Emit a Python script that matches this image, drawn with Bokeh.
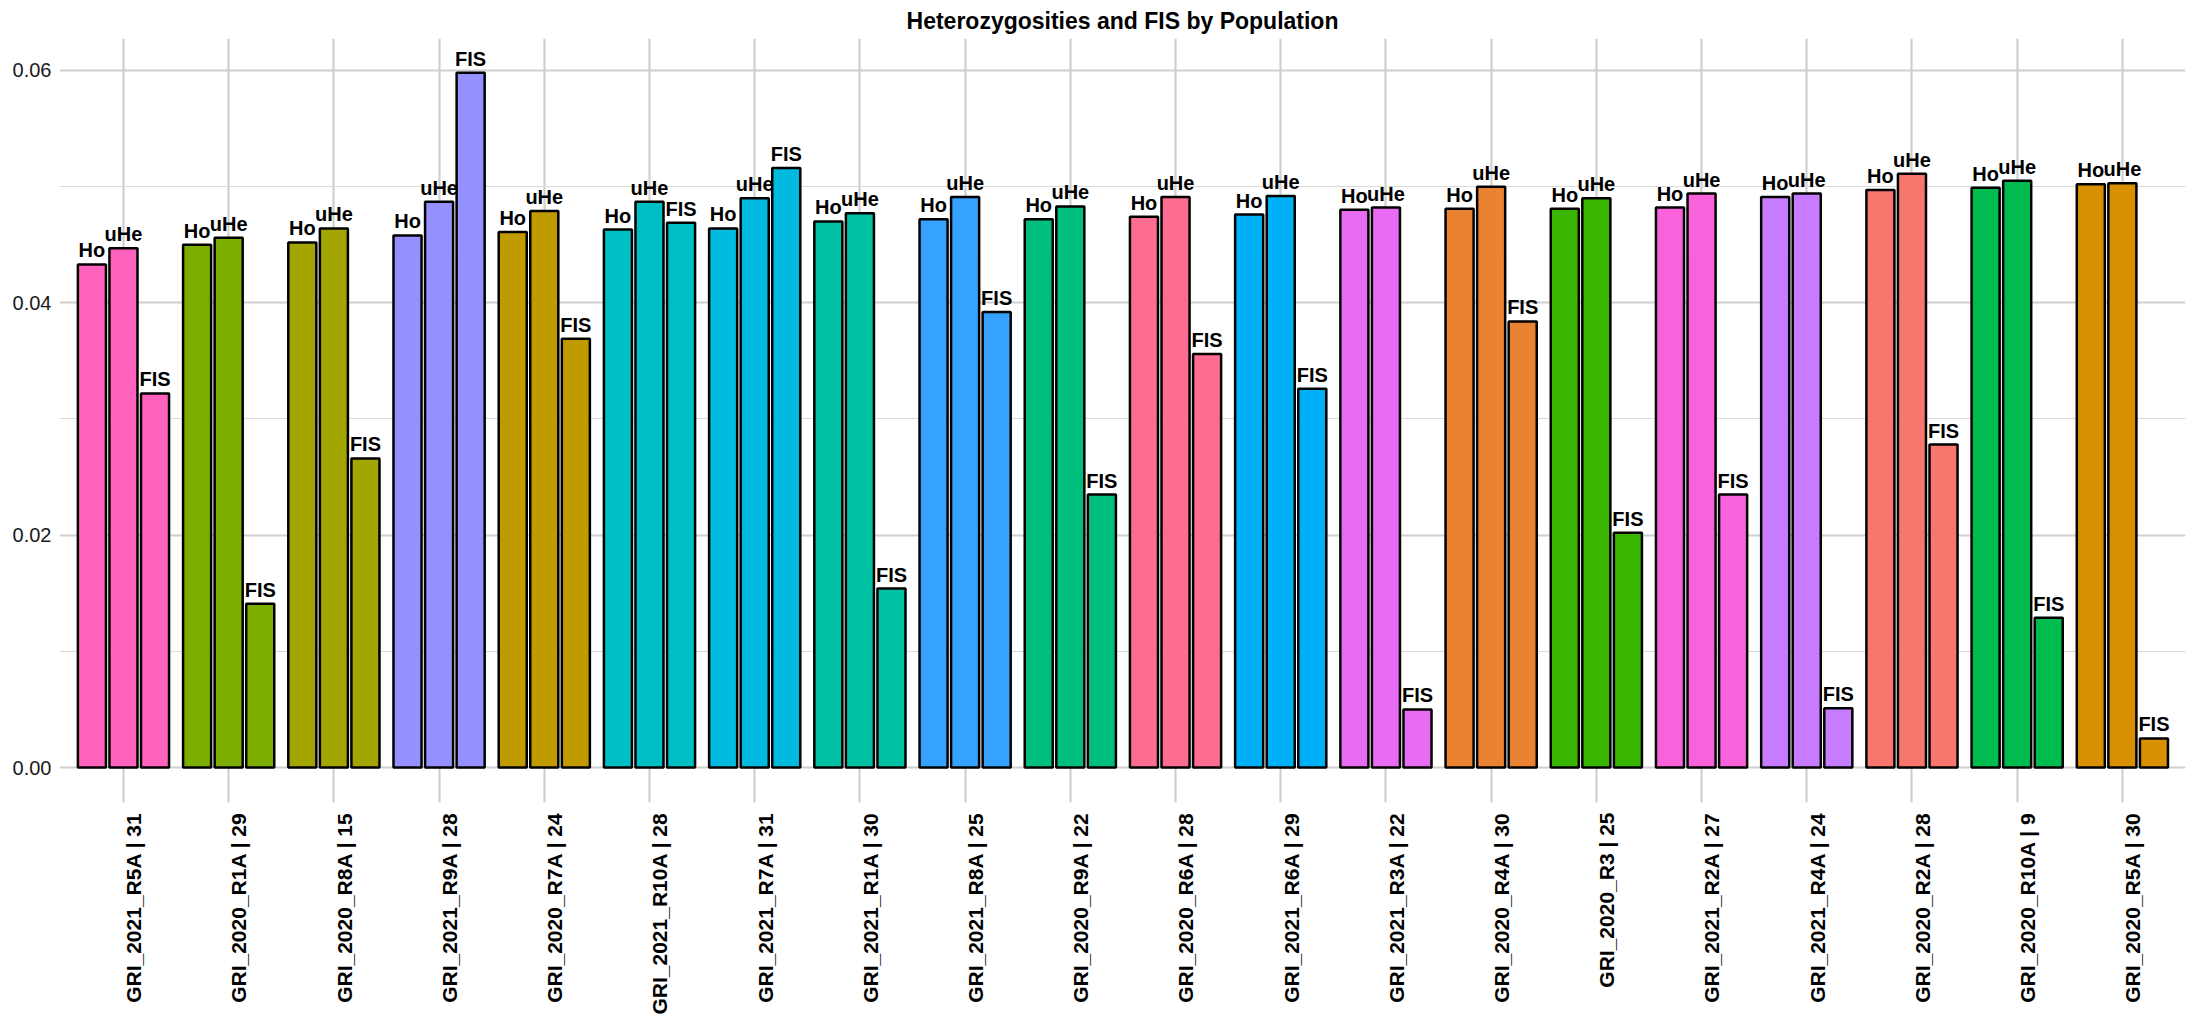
import numpy as np
from bokeh.plotting import figure
from bokeh.models import ColumnDataSource, Range1d, FixedTicker, NumeralTickFormatter
from bokeh.transform import dodge
from bokeh.core.properties import value
from bokeh.embed import file_html
from bokeh.resources import INLINE

# ---------------- data ----------------
populations = [
    "GRI_2021_R5A | 31", "GRI_2020_R1A | 29", "GRI_2020_R8A | 15", "GRI_2021_R9A | 28",
    "GRI_2020_R7A | 24", "GRI_2021_R10A | 28", "GRI_2021_R7A | 31", "GRI_2021_R1A | 30",
    "GRI_2021_R8A | 25", "GRI_2020_R9A | 22", "GRI_2020_R6A | 28", "GRI_2021_R6A | 29",
    "GRI_2021_R3A | 22", "GRI_2020_R4A | 30", "GRI_2020_R3 | 25", "GRI_2021_R2A | 27",
    "GRI_2021_R4A | 24", "GRI_2020_R2A | 28", "GRI_2020_R10A | 9", "GRI_2020_R5A | 30",
]
ho = [0.0433, 0.0450, 0.0452, 0.0458, 0.0461, 0.0463, 0.0464, 0.0470, 0.0472, 0.0472,
      0.0474, 0.0476, 0.0480, 0.0481, 0.0481, 0.0482, 0.0491, 0.0497, 0.0499, 0.0502]
uhe = [0.0447, 0.0456, 0.0464, 0.0487, 0.0479, 0.0487, 0.0490, 0.0477, 0.0491, 0.0483,
       0.0491, 0.0492, 0.0482, 0.0500, 0.0490, 0.0494, 0.0494, 0.0511, 0.0505, 0.0503]
fis = [0.0322, 0.0141, 0.0266, 0.0598, 0.0369, 0.0469, 0.0516, 0.0154, 0.0392, 0.0235,
       0.0356, 0.0326, 0.0050, 0.0384, 0.0202, 0.0235, 0.0051, 0.0278, 0.0129, 0.0025]
colors = ["#FF62BC", "#7CAE00", "#A3A500", "#9590FF", "#C09B00", "#00BFC4", "#00BAE0",
          "#00C1A3", "#35A2FF", "#00BF7D", "#FF6C91", "#00B0F6", "#E76BF3", "#EA8331",
          "#39B600", "#FA62DB", "#C77CFF", "#F8766D", "#00BB4E", "#D89000"]
metrics = ["Ho", "uHe", "FIS"]
y_major_ticks = [0.0, 0.02, 0.04, 0.06]
y_minor_ticks = [0.01, 0.03, 0.05]

# ---------------- layout ----------------
FONT = "Liberation Sans"
W, H = 2189, 1018
n = len(populations)
x_idx = list(range(1, n + 1))
x_start, x_end = 1 - 0.608, n + 0.60
y_start, y_end = -0.00301, 0.06275
dodge_width = 0.9
bar_width = 0.8 / len(metrics)
offsets = [(k - (len(metrics) - 1) / 2) * dodge_width / len(metrics) for k in range(len(metrics))]
label_shift = 0.098  # rotated category labels sit just right of their gridline

p = figure(width=W, height=H, output_backend="svg", toolbar_location=None,
           x_range=Range1d(x_start, x_end), y_range=Range1d(y_start, y_end),
           min_border_left=59, min_border_right=4, min_border_top=38, min_border_bottom=216,
           title="Heterozygosities and FIS by Population")
p.outline_line_color = None
p.background_fill_color = "white"
p.border_fill_color = "white"

p.title.text_font = FONT
p.title.text_font_size = "23px"
p.title.text_font_style = "bold"
p.title.text_color = "black"
p.title.align = "center"
p.title.standoff = 10

# x axis: category names, rotated
label_pos = [i + label_shift for i in x_idx]
p.xaxis.ticker = FixedTicker(ticks=label_pos)
p.xaxis.major_label_overrides = dict(zip(label_pos, populations))
p.xaxis.major_label_orientation = np.pi / 2
p.xaxis.axis_line_color = None
p.xaxis.major_tick_in = 0
p.xaxis.major_tick_out = 0
p.xaxis.minor_tick_in = 0
p.xaxis.minor_tick_out = 0
p.xaxis.major_label_standoff = 10
p.xaxis.major_label_text_font = FONT
p.xaxis.major_label_text_font_size = "21px"
p.xaxis.major_label_text_font_style = "bold"
p.xaxis.major_label_text_color = "black"
p.xgrid.ticker = FixedTicker(ticks=x_idx)
p.xgrid.grid_line_color = "#CFCFCF"
p.xgrid.grid_line_width = 2.2

# y axis
p.yaxis.ticker = FixedTicker(ticks=y_major_ticks, minor_ticks=y_minor_ticks)
p.yaxis.formatter = NumeralTickFormatter(format="0.00")
p.yaxis.axis_line_color = None
p.yaxis.major_tick_in = 0
p.yaxis.major_tick_out = 0
p.yaxis.minor_tick_in = 0
p.yaxis.minor_tick_out = 0
p.yaxis.major_label_standoff = 8
p.yaxis.major_label_text_font = FONT
p.yaxis.major_label_text_font_size = "20px"
p.yaxis.major_label_text_color = "#1A1A1A"
p.ygrid.grid_line_color = "#CFCFCF"
p.ygrid.grid_line_width = 2.2
p.ygrid.minor_grid_line_color = "#DADADA"
p.ygrid.minor_grid_line_width = 1.2

# bars
series = [ho, uhe, fis]
sources = []
for metric, vals, off in zip(metrics, series, offsets):
    src = ColumnDataSource(dict(x=x_idx, top=vals, color=colors, label=[metric] * n))
    sources.append((src, off))
    p.vbar(x=dodge("x", off, range=p.x_range), top="top", bottom=0, width=bar_width,
           source=src, fill_color="color", line_color="black", line_width=2.5)

for src, off in sources:
    p.text(x=dodge("x", off, range=p.x_range), y="top", text="label", source=src,
           text_align="center", text_baseline="bottom", y_offset=-3,
           text_font=value(FONT), text_font_style="bold", text_font_size="20px",
           text_color="black")

open("out.html", "w").write(file_html(p, INLINE))
